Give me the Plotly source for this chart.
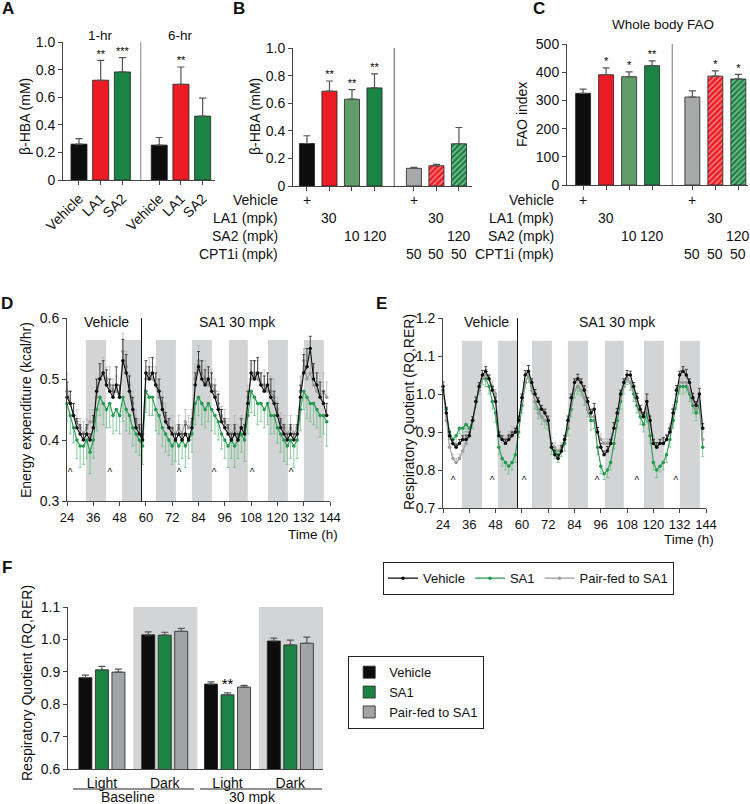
import plotly.graph_objects as go

# ======================= DATA =======================
# Panel A
A_LABELS = ["Vehicle", "LA1", "SA2", "Vehicle", "LA1", "SA2"]
A_GROUPS = ["1-hr", "6-hr"]
A_VALUES = [0.26, 0.723, 0.783, 0.253, 0.694, 0.463]
A_ERR = [0.04, 0.144, 0.104, 0.055, 0.125, 0.13]
A_STARS = ["", "**", "***", "", "**", ""]
A_TICKVALS = [0, 0.2, 0.4, 0.6, 0.8, 1.0]
A_TICKTEXT = ["0", "0.2", "0.4", "0.6", "0.8", "1.0"]

# Panel B
B_VALUES = [0.308, 0.687, 0.629, 0.711, 0.128, 0.147, 0.306]
B_ERR = [0.056, 0.074, 0.07, 0.101, 0.007, 0.01, 0.118]
B_STARS = ["", "**", "**", "**", "", "", ""]

# Panel C
C_TITLE = "Whole body FAO"
C_VALUES = [325, 391, 384, 423, 312, 386, 376]
C_ERR = [15, 24, 17, 17, 22, 19, 16]
C_STARS = ["", "*", "*", "**", "", "*", "*"]

# Treatment table under B and C
TABLE_ROWS = ["Vehicle", "LA1 (mpk)", "SA2 (mpk)", "CPT1i (mpk)"]
TABLE_CELLS = [
    ["+", "", "", "", "+", "", ""],
    ["", "30", "", "", "", "30", ""],
    ["", "", "10", "120", "", "", "120"],
    ["", "", "", "", "50", "50", "50"],
]

# Panels D / E time series (h)
SERIES_NAMES = ["Vehicle", "SA1", "Pair-fed to SA1"]
PERIOD_LABELS = ["Vehicle", "SA1 30 mpk"]
DARK_START = [32.7, 49.1, 64.6, 81.0, 97.9, 115.7, 132.1]
DARK_END = [41.8, 58.2, 73.7, 90.1, 106.5, 124.8, 141.2]
TREAT_START = 58.0

D_BLACK = [0.47, 0.46, 0.44, 0.42, 0.41, 0.40, 0.41, 0.40, 0.42, 0.48,
           0.50, 0.51, 0.49, 0.48, 0.47, 0.49, 0.47, 0.53, 0.51, 0.48,
           0.45, 0.42, 0.41, 0.40, 0.51, 0.50, 0.51, 0.49, 0.48, 0.45,
           0.43, 0.42, 0.41, 0.40, 0.41, 0.40, 0.41, 0.40, 0.42, 0.49,
           0.52, 0.50, 0.49, 0.50, 0.48, 0.47, 0.45, 0.43, 0.42, 0.41,
           0.40, 0.41, 0.40, 0.42, 0.41, 0.46, 0.51, 0.50, 0.51, 0.49,
           0.48, 0.49, 0.47, 0.46, 0.44, 0.42, 0.41, 0.40, 0.41, 0.40,
           0.41, 0.47, 0.51, 0.52, 0.55, 0.50, 0.49, 0.47, 0.46, 0.44]
D_GREEN = [0.46, 0.44, 0.42, 0.40, 0.39, 0.39, 0.40, 0.38, 0.40, 0.45,
           0.47, 0.46, 0.45, 0.46, 0.44, 0.45, 0.44, 0.47, 0.45, 0.44,
           0.42, 0.41, 0.40, 0.39, 0.48, 0.47, 0.47, 0.45, 0.44, 0.42,
           0.41, 0.40, 0.39, 0.40, 0.39, 0.40, 0.39, 0.40, 0.41, 0.46,
           0.47, 0.46, 0.45, 0.46, 0.45, 0.44, 0.43, 0.41, 0.40, 0.39,
           0.40, 0.39, 0.40, 0.41, 0.40, 0.44, 0.48, 0.47, 0.46, 0.46,
           0.45, 0.46, 0.44, 0.44, 0.42, 0.41, 0.40, 0.39, 0.40, 0.39,
           0.40, 0.45, 0.48, 0.47, 0.46, 0.46, 0.45, 0.44, 0.44, 0.43]
D_GREY = [0.48, 0.46, 0.44, 0.43, 0.42, 0.41, 0.42, 0.43, 0.43, 0.47,
          0.50, 0.51, 0.50, 0.49, 0.48, 0.48, 0.47, 0.545, 0.52, 0.49,
          0.46, 0.43, 0.42, 0.41, 0.50, 0.51, 0.50, 0.49, 0.47, 0.46,
          0.44, 0.42, 0.42, 0.41, 0.42, 0.41, 0.43, 0.42, 0.43, 0.50,
          0.53, 0.51, 0.50, 0.49, 0.49, 0.48, 0.46, 0.44, 0.43, 0.42,
          0.41, 0.42, 0.41, 0.42, 0.42, 0.47, 0.50, 0.51, 0.50, 0.49,
          0.49, 0.48, 0.48, 0.47, 0.45, 0.43, 0.42, 0.41, 0.42, 0.41,
          0.42, 0.48, 0.53, 0.50, 0.51, 0.49, 0.48, 0.47, 0.48, 0.47]
D_BLACK_ERR = [.025, .02, .02, .015, .015, .01, .015, .01, .02, .02,
               .025, .02, .025, .02, .02, .03, .02, .035, .03, .025,
               .02, .015, .015, .01, .02, .02, .025, .02, .02, .02,
               .015, .015, .01, .01, .015, .01, .015, .01, .015, .02,
               .025, .03, .025, .02, .03, .02, .025, .02, .015, .015,
               .01, .015, .01, .015, .015, .02, .02, .03, .025, .02,
               .025, .02, .03, .02, .02, .015, .015, .01, .015, .01,
               .015, .02, .03, .03, .02, .025, .02, .025, .02, .02]
D_GREEN_ERR = [.03, .03, .025, .03, .035, .03, .03, .035, .03, .035,
               .03, .035, .03, .04, .03, .035, .03, .04, .035, .03,
               .03, .03, .025, .03, .035, .03, .03, .035, .03, .03,
               .03, .025, .03, .035, .03, .03, .035, .03, .03, .035,
               .03, .035, .03, .03, .035, .03, .03, .025, .03, .035,
               .03, .035, .03, .03, .035, .03, .035, .03, .035, .03,
               .03, .035, .03, .03, .025, .03, .035, .03, .03, .035,
               .03, .035, .03, .035, .03, .035, .03, .035, .03, .04]
D_GREY_ERR = [.03, .02, .02, .02, .015, .02, .015, .02, .02, .025,
              .02, .025, .02, .03, .02, .025, .02, .03, .025, .02,
              .02, .02, .015, .015, .02, .025, .02, .03, .02, .02,
              .02, .015, .02, .015, .02, .015, .02, .02, .02, .025,
              .025, .02, .03, .02, .025, .02, .02, .015, .02, .015,
              .015, .02, .015, .02, .015, .02, .025, .02, .03, .02,
              .025, .02, .025, .03, .02, .015, .02, .015, .02, .015,
              .02, .025, .02, .03, .025, .02, .025, .02, .03, .025]

E_BLACK = [1.02, 0.95, 0.89, 0.87, 0.86, 0.87, 0.88, 0.88, 0.89, 0.93,
           0.98, 1.02, 1.05, 1.06, 1.04, 1.01, 0.98, 0.89, 0.88, 0.87,
           0.88, 0.89, 0.90, 0.93, 0.99, 1.05, 1.06, 1.03, 1.00, 0.98,
           0.96, 0.95, 0.93, 0.86, 0.84, 0.83, 0.85, 0.88, 0.93, 0.99,
           1.03, 1.04, 1.03, 1.01, 0.98, 0.95, 0.96, 0.90, 0.86, 0.84,
           0.85, 0.87, 0.91, 0.95, 1.00, 1.03, 1.05, 1.05, 1.02, 0.99,
           0.96, 0.94, 0.98, 0.93, 0.87, 0.86, 0.87, 0.87, 0.88, 0.90,
           0.95, 1.01, 1.05, 1.06, 1.05, 1.03, 0.99, 0.97, 1.00, 0.91]
E_GREEN = [1.01, 0.96, 0.90, 0.88, 0.89, 0.91, 0.91, 0.92, 0.91, 0.93,
           0.98, 1.02, 1.04, 1.04, 1.02, 0.98, 0.95, 0.86, 0.83, 0.82,
           0.81, 0.82, 0.84, 0.90, 0.97, 1.03, 1.05, 1.02, 0.98, 0.96,
           0.94, 0.93, 0.92, 0.86, 0.85, 0.84, 0.85, 0.87, 0.91, 0.96,
           1.01, 1.02, 1.01, 0.99, 0.96, 0.93, 0.93, 0.86, 0.81, 0.79,
           0.80, 0.82, 0.87, 0.93, 0.98, 1.02, 1.04, 1.03, 1.00, 0.97,
           0.94, 0.92, 0.95, 0.89, 0.82, 0.80, 0.81, 0.82, 0.84, 0.88,
           0.93, 0.98, 1.02, 1.02, 1.02, 1.00, 0.97, 0.95, 0.97, 0.86]
E_GREY = [1.01, 0.93, 0.86, 0.83, 0.82, 0.83, 0.85, 0.87, 0.89, 0.93,
          0.98, 1.01, 1.04, 1.05, 1.04, 1.02, 1.00, 0.90, 0.88, 0.88,
          0.89, 0.90, 0.90, 0.93, 0.98, 1.03, 1.05, 1.01, 0.98, 0.95,
          0.94, 0.93, 0.92, 0.87, 0.86, 0.85, 0.86, 0.88, 0.92, 0.97,
          1.01, 1.02, 1.01, 0.99, 0.96, 0.94, 0.94, 0.90, 0.88, 0.87,
          0.87, 0.88, 0.91, 0.95, 0.99, 1.02, 1.04, 1.03, 1.01, 0.98,
          0.95, 0.94, 0.96, 0.92, 0.88, 0.86, 0.87, 0.87, 0.88, 0.91,
          0.96, 1.00, 1.03, 1.03, 1.03, 1.01, 0.98, 0.96, 0.98, 0.88]
E_BLACK_ERR = [.012, .015, .01, .01, .008, .01, .01, .012, .01, .01,
               .012, .01, .012, .012, .01, .01, .012, .01, .01, .01,
               .012, .01, .01, .012, .01, .012, .015, .01, .012, .01,
               .01, .01, .012, .01, .012, .01, .015, .01, .012, .01,
               .01, .012, .01, .012, .01, .01, .015, .012, .01, .01,
               .012, .01, .015, .012, .01, .01, .012, .01, .01, .012,
               .01, .012, .02, .012, .01, .012, .01, .015, .012, .01,
               .01, .012, .01, .012, .015, .01, .012, .01, .015, .012]
E_GREEN_ERR = [.015, .02, .02, .015, .02, .015, .02, .02, .015, .02,
               .015, .02, .015, .02, .02, .02, .025, .02, .02, .02,
               .02, .02, .02, .015, .02, .015, .02, .02, .02, .025,
               .02, .02, .015, .02, .02, .02, .015, .02, .02, .02,
               .02, .02, .015, .02, .02, .025, .02, .02, .02, .015,
               .02, .02, .015, .02, .02, .02, .015, .02, .02, .02,
               .02, .02, .025, .02, .02, .02, .015, .02, .02, .02,
               .02, .02, .02, .02, .015, .02, .02, .02, .02, .025]
E_GREY_ERR = [.015, .015, .01, .012, .01, .012, .015, .01, .012, .01,
              .012, .01, .012, .015, .012, .015, .012, .01, .012, .01,
              .012, .015, .01, .012, .015, .01, .012, .015, .012, .015,
              .012, .015, .01, .015, .012, .015, .012, .012, .01, .012,
              .01, .012, .015, .012, .015, .012, .015, .012, .015, .012,
              .012, .015, .012, .01, .012, .015, .012, .01, .012, .015,
              .015, .012, .015, .012, .015, .012, .012, .015, .012, .012,
              .012, .015, .01, .012, .015, .012, .015, .012, .015, .02]
TIME_H = [24 + 1.5 * i for i in range(len(D_BLACK))]

D_CARET_T = [25.4, 43.6, 75.1, 91.1, 108.4, 126.2]
D_CARET_Y = 0.345
E_CARET_T = [28.6, 46.4, 61.0, 94.3, 112.5, 130.3]
E_CARET_Y = 0.77

# Panel F
F_CATS = ["Light", "Dark", "Light", "Dark"]
F_PHASES = ["Baseline", "30 mpk"]
F_VEH = [0.882, 1.014, 0.862, 0.995]
F_VEH_ERR = [0.008, 0.009, 0.007, 0.009]
F_SA1 = [0.906, 1.013, 0.829, 0.983]
F_SA1_ERR = [0.011, 0.009, 0.006, 0.015]
F_PF = [0.899, 1.025, 0.853, 0.988]
F_PF_ERR = [0.009, 0.009, 0.005, 0.019]
F_SA1_STARS = ["", "", "**", ""]

# ======================= STYLE =======================
W, H = 750, 804
FONT = "Liberation Sans, Arial, Helvetica, sans-serif"
FS = 13.5
TICK_FS = 14
TXT = "#111111"
AX = "#444444"
BLACK = "#0d0d0d"
RED = "#ec1c24"
DGREEN = "#1b8444"
LGREEN = "#619d6b"
GREY = "#a7a8aa"
BAND = "#d3d4d5"
LINE_GREEN = "#239a4e"
LINE_GREY = "#9c9c9c"


def px(x):
    return x / W


def py(y):
    return 1 - y / H


def group_positions(sizes, gap):
    pos, start = [], 0.0
    for s in sizes:
        pos += [start + i for i in range(s)]
        start += s - 1 + gap
    return pos


A_POS = group_positions([3, 3], 1.7)
BC_POS = group_positions([4, 3], 1.75)
A_DIV = (A_POS[2] + A_POS[3]) / 2
BC_DIV = (BC_POS[3] + BC_POS[4]) / 2

fig = go.Figure()
annotations = []
shapes = []


def ann(text, x, y, xref="paper", yref="paper", size=FS, **kw):
    d = dict(text=text, x=x, y=y, xref=xref, yref=yref, showarrow=False,
             xanchor="center", yanchor="middle",
             font=dict(size=size, family=FONT, color=TXT))
    d.update(kw)
    return d


def bar_err(err):
    return dict(type="data", array=err, arrayminus=[0] * len(err),
                symmetric=False, color="#555555", thickness=1.2, width=3.5)


STAR_FONT = dict(size=11, family=FONT, color="#000000")

# ---------- A ----------
fig.add_trace(go.Bar(x=A_POS, y=A_VALUES, width=0.74, xaxis="x", yaxis="y",
                     marker=dict(color=[BLACK, RED, DGREEN] * 2,
                                 line=dict(color="#222", width=0.8)),
                     error_y=bar_err(A_ERR), showlegend=False))
fig.add_trace(go.Scatter(x=A_POS, y=[v + e for v, e in zip(A_VALUES, A_ERR)],
                         text=A_STARS, mode="text", textposition="top center",
                         textfont=STAR_FONT,
                         xaxis="x", yaxis="y", showlegend=False, cliponaxis=False))

# ---------- B & C ----------
BC_COLORS = [BLACK, RED, LGREEN, DGREEN, GREY, RED, DGREEN]
BC_SHAPES = ["", "", "", "", "", "/", "/"]
BC_FG = [BLACK, RED, LGREEN, DGREEN, GREY, "#6a0a0c", "#0b3a1c"]
for vals, errs, stars, xa, ya, w in [(B_VALUES, B_ERR, B_STARS, "x2", "y2", 0.67),
                                     (C_VALUES, C_ERR, C_STARS, "x3", "y3", 0.65)]:
    fig.add_trace(go.Bar(x=BC_POS, y=vals, width=w, xaxis=xa, yaxis=ya,
                         marker=dict(color=BC_COLORS, line=dict(color="#222", width=0.8),
                                     pattern=dict(shape=BC_SHAPES, fgcolor=BC_FG, size=4,
                                                  solidity=0.35, fillmode="overlay")),
                         error_y=bar_err(errs), showlegend=False))
    fig.add_trace(go.Scatter(x=BC_POS, y=[v + e for v, e in zip(vals, errs)],
                             text=stars, mode="text", textposition="top center",
                             textfont=STAR_FONT,
                             xaxis=xa, yaxis=ya, showlegend=False, cliponaxis=False))

# ---------- D & E ----------
series_d = [(D_GREEN, D_GREEN_ERR, SERIES_NAMES[1], LINE_GREEN, "#6fbf88", 2, "down"),
            (D_GREY, D_GREY_ERR, SERIES_NAMES[2], LINE_GREY, "#b8b8b8", 3, "up"),
            (D_BLACK, D_BLACK_ERR, SERIES_NAMES[0], BLACK, "#222222", 1, "up")]
series_e = [(E_GREEN, E_GREEN_ERR), (E_GREY, E_GREY_ERR), (E_BLACK, E_BLACK_ERR)]
for (vals, errs, name, col, ecol, rank, direction), (evals, eerrs) in zip(series_d, series_e):
    for y_vals, y_err, xa, ya, show in [(vals, errs, "x4", "y4", True),
                                        (evals, eerrs, "x5", "y5", False)]:
        zeros = [0] * len(y_err)
        if direction == "up":
            ey = dict(type="data", array=y_err, arrayminus=zeros, symmetric=False)
        else:
            ey = dict(type="data", array=zeros, arrayminus=y_err, symmetric=False)
        ey.update(color=ecol, thickness=0.8, width=1.5)
        fig.add_trace(go.Scatter(x=TIME_H, y=y_vals, mode="lines+markers", name=name,
                                 line=dict(color=col, width=1.1),
                                 marker=dict(color=col, size=3.5),
                                 error_y=ey, xaxis=xa, yaxis=ya, legendgroup=name,
                                 legendrank=rank, showlegend=show, legend="legend",
                                 cliponaxis=False))

fig.add_trace(go.Scatter(x=D_CARET_T, y=[D_CARET_Y] * len(D_CARET_T), mode="text",
                         text=["^"] * len(D_CARET_T), textfont=dict(size=10, family=FONT, color=TXT),
                         xaxis="x4", yaxis="y4", showlegend=False))
fig.add_trace(go.Scatter(x=E_CARET_T, y=[E_CARET_Y] * len(E_CARET_T), mode="text",
                         text=["^"] * len(E_CARET_T), textfont=dict(size=10, family=FONT, color=TXT),
                         xaxis="x5", yaxis="y5", showlegend=False))

for xa, ya, ylo, ytop, ymax in [("x4", "y4", 0.3, 0.564, 0.6), ("x5", "y5", 0.7, 1.14, 1.2)]:
    for s, e in zip(DARK_START, DARK_END):
        shapes.append(dict(type="rect", xref=xa, yref=ya, x0=s, x1=e, y0=ylo, y1=ytop,
                           fillcolor=BAND, line=dict(width=0), layer="below"))
    shapes.append(dict(type="line", xref=xa, yref=ya, x0=TREAT_START, x1=TREAT_START,
                       y0=ylo, y1=ymax, line=dict(color="#111", width=1)))

# ---------- F ----------
F_WIDTH = 0.207
F_STEP = 0.263
for i, (vals, errs, name, col) in enumerate([(F_VEH, F_VEH_ERR, SERIES_NAMES[0], BLACK),
                                            (F_SA1, F_SA1_ERR, SERIES_NAMES[1], DGREEN),
                                            (F_PF, F_PF_ERR, SERIES_NAMES[2], "#a2a3a5")]):
    fig.add_trace(go.Bar(x=list(range(len(F_CATS))), y=vals, name=name,
                         width=F_WIDTH, offset=(i - 1) * F_STEP - F_WIDTH / 2,
                         base=0, marker=dict(color=col, line=dict(color="#222", width=0.8)),
                         error_y=bar_err(errs), xaxis="x6", yaxis="y6",
                         legend="legend2", showlegend=True))
fig.add_trace(go.Scatter(x=list(range(len(F_CATS))),
                         y=[v + e for v, e in zip(F_SA1, F_SA1_ERR)], text=F_SA1_STARS,
                         mode="text", textposition="top center",
                         textfont=dict(size=15, family=FONT, color="#000000"),
                         xaxis="x6", yaxis="y6", showlegend=False, cliponaxis=False))
for x0 in [0.5, 2.5]:
    shapes.append(dict(type="rect", xref="x6", yref="y6", x0=x0, x1=x0 + 1.02, y0=0.6, y1=1.1,
                       fillcolor=BAND, line=dict(width=0), layer="below"))

# ---------- dividers in A/B/C ----------
shapes.append(dict(type="line", xref="x", yref="y", x0=A_DIV, x1=A_DIV, y0=0, y1=1.0,
                   line=dict(color="#888", width=1)))
shapes.append(dict(type="line", xref="x2", yref="y2", x0=BC_DIV, x1=BC_DIV, y0=0, y1=1.0,
                   line=dict(color="#555", width=1)))
shapes.append(dict(type="line", xref="x3", yref="y3", x0=BC_DIV, x1=BC_DIV, y0=0, y1=500,
                   line=dict(color="#777", width=1)))

# F group underlines
shapes.append(dict(type="line", xref="paper", yref="paper", x0=px(73), x1=px(194),
                   y0=py(789), y1=py(789), line=dict(color="#222", width=1)))
shapes.append(dict(type="line", xref="paper", yref="paper", x0=px(200), x1=px(322),
                   y0=py(789), y1=py(789), line=dict(color="#222", width=1)))

# ---------- annotations ----------
for letter, x, y in [("A", 8, 9), ("B", 239, 9), ("C", 539, 9),
                     ("D", 7, 303), ("E", 381, 303), ("F", 7, 567)]:
    annotations.append(ann("<b>%s</b>" % letter, px(x), py(y), size=17))

annotations.append(ann(A_GROUPS[0], A_POS[1], py(35), xref="x"))
annotations.append(ann(A_GROUPS[1], A_POS[4], py(35), xref="x"))
annotations.append(ann(C_TITLE, px(663), py(25)))

for text, x, y in [("β-HBA (mM)", 25, 117), ("β-HBA (mM)", 255, 117), ("FAO index", 522, 115),
                   ("Energy expenditure (kcal/hr)", 26, 410),
                   ("Respiratory Quotient (RQ,RER)", 409, 412),
                   ("Respiratory Quotient (RQ,RER)", 27, 683)]:
    annotations.append(ann(text, px(x), py(y), textangle=-90, size=14))

ROW_Y = [200, 218, 236, 254]
for xa, label_x in [("x2", 280), ("x3", 556)]:
    for r, (lab, cells) in enumerate(zip(TABLE_ROWS, TABLE_CELLS)):
        annotations.append(ann(lab, px(label_x), py(ROW_Y[r]), xanchor="right", size=14))
        for pos, cell in zip(BC_POS, cells):
            if cell:
                annotations.append(ann(cell, pos, py(ROW_Y[r]), xref=xa, size=14))

for xa, tv, ts in [("x4", 41.8, 101.6), ("x5", 44.0, 103.4)]:
    annotations.append(ann(PERIOD_LABELS[0], tv, py(322), xref=xa, size=14))
    annotations.append(ann(PERIOD_LABELS[1], ts, py(322), xref=xa, size=14))
annotations.append(ann("Time (h)", px(313), py(534)))
annotations.append(ann("Time (h)", px(689), py(539)))
annotations.append(ann(F_PHASES[0], px(128), py(797), size=14))
annotations.append(ann(F_PHASES[1], px(252), py(797), size=14))


def axis(domain, **kw):
    d = dict(domain=domain, showline=True, linecolor=AX, linewidth=1, ticks="outside",
             ticklen=4, tickcolor=AX, showgrid=False, zeroline=False, automargin=False,
             tickfont=dict(size=TICK_FS, family=FONT, color=TXT), fixedrange=True)
    d.update(kw)
    return d


fig.update_layout(
    template="none",
    width=W, height=H, margin=dict(l=0, r=0, t=0, b=0, pad=0, autoexpand=False),
    plot_bgcolor="white", paper_bgcolor="white", barmode="overlay",
    font=dict(family=FONT, size=FS, color=TXT),
    xaxis=axis([px(63), px(215)], range=[-0.737, 6.27], tickvals=A_POS, ticktext=A_LABELS,
               tickangle=-45, anchor="y"),
    yaxis=axis([py(180), py(42)], range=[0, 1.0], tickvals=A_TICKVALS, ticktext=A_TICKTEXT,
               anchor="x"),
    xaxis2=axis([px(293), px(472)], range=[-0.62, 7.33], tickvals=BC_POS,
                ticktext=[""] * len(BC_POS), anchor="y2"),
    yaxis2=axis([py(186), py(48)], range=[0, 1.0], tickvals=A_TICKVALS, ticktext=A_TICKTEXT,
                anchor="x2"),
    xaxis3=axis([px(567), px(748)], range=[-0.7, 7.17], tickvals=BC_POS,
                ticktext=[""] * len(BC_POS), anchor="y3"),
    yaxis3=axis([py(185), py(44)], range=[0, 500], dtick=100, anchor="x3"),
    xaxis4=axis([px(67), px(330)], range=[24, 144], tick0=24, dtick=12, anchor="y4",
                tickfont=dict(size=13, family=FONT, color=TXT)),
    yaxis4=axis([py(501), py(318)], range=[0.3, 0.6], dtick=0.1, tickformat=".1f", anchor="x4"),
    xaxis5=axis([px(443), px(706)], range=[24, 144], tick0=24, dtick=12, anchor="y5",
                tickfont=dict(size=13, family=FONT, color=TXT)),
    yaxis5=axis([py(508), py(318)], range=[0.7, 1.2], dtick=0.1, tickformat=".1f", anchor="x5"),
    xaxis6=axis([px(68), px(323)], range=[-0.54, 3.52], tickvals=list(range(len(F_CATS))),
                ticktext=F_CATS, ticks="outside", ticklen=1, tickcolor="rgba(0,0,0,0)",
                anchor="y6"),
    yaxis6=axis([py(769), py(607)], range=[0.6, 1.1], dtick=0.1, tickformat=".1f", anchor="x6"),
    legend=dict(x=px(383), y=py(562), xanchor="left", yanchor="top", orientation="h",
                bordercolor="#222", borderwidth=1.2, font=dict(size=13, family=FONT, color=TXT),
                itemwidth=30, bgcolor="white", tracegroupgap=0),
    legend2=dict(x=px(348), y=py(656), xanchor="left", yanchor="top", orientation="v",
                 bordercolor="#222", borderwidth=1.2, font=dict(size=13, family=FONT, color=TXT),
                 bgcolor="white", tracegroupgap=0, itemwidth=30),
    annotations=annotations, shapes=shapes,
)

fig.write_html(
    "out.html",
    config={"displayModeBar": False, "staticPlot": True},
    post_script="document.body.style.margin='0';document.body.style.padding='0';"
                "document.body.style.overflow='hidden';",
)
